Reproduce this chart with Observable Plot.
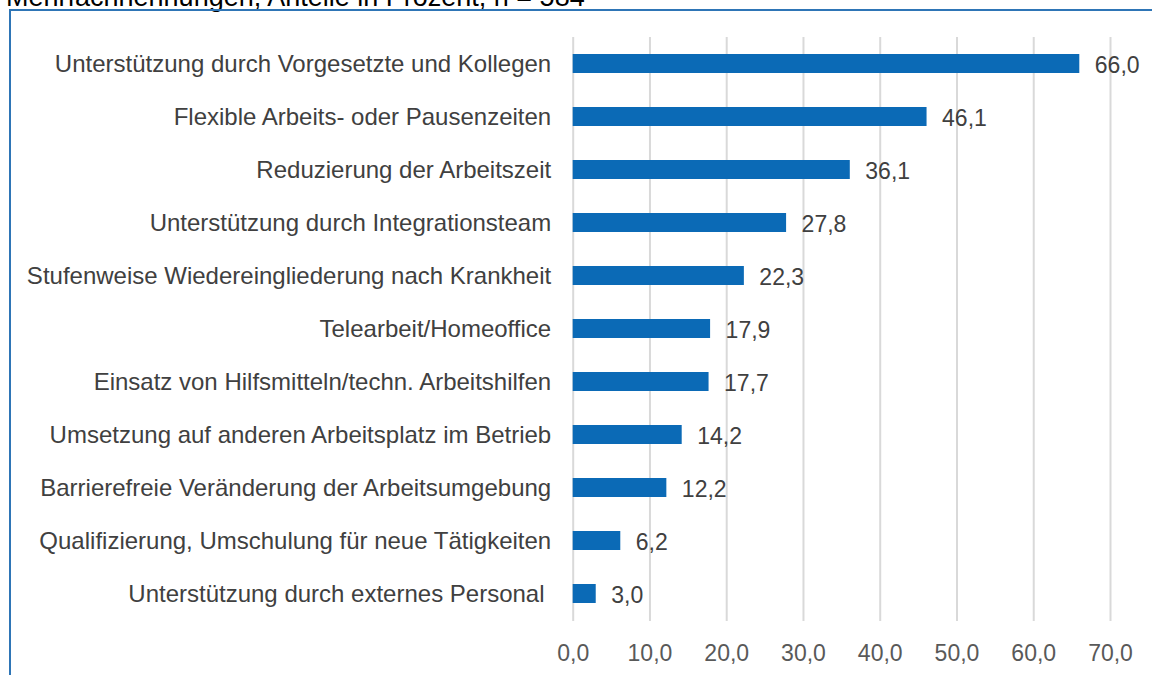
<!DOCTYPE html>
<html>
<head>
<meta charset="utf-8">
<script src="https://cdn.jsdelivr.net/npm/d3@7"></script>
<script src="https://cdn.jsdelivr.net/npm/@observablehq/plot@0.6"></script>
<style>
  html, body { margin: 0; padding: 0; background: #ffffff; }
  #wrap { position: relative; width: 1152px; height: 675px; overflow: hidden; background: #ffffff; }
  #title { position: absolute; left: 6px; top: -16px; font-family: "Liberation Sans", Arial, sans-serif; font-size: 27px; line-height: 27px; color: #000000; white-space: nowrap; }
  #frame { position: absolute; left: 9px; top: 9px; width: 1200px; height: 700px; border-left: 2px solid #2e75b6; border-top: 2px solid #2e75b6; }
  #chart { position: absolute; left: 0; top: 0; }
</style>
</head>
<body>
<div id="wrap">
  <div id="title">Mehrfachnennungen, Anteile in Prozent, n = 584</div>
  <div id="frame"></div>
  <div id="chart"></div>
</div>
<script>
const categories = [
  "Unterstützung durch Vorgesetzte und Kollegen",
  "Flexible Arbeits- oder Pausenzeiten",
  "Reduzierung der Arbeitszeit",
  "Unterstützung durch Integrationsteam",
  "Stufenweise Wiedereingliederung nach Krankheit",
  "Telearbeit/Homeoffice",
  "Einsatz von Hilfsmitteln/techn. Arbeitshilfen",
  "Umsetzung auf anderen Arbeitsplatz im Betrieb",
  "Barrierefreie Veränderung der Arbeitsumgebung",
  "Qualifizierung, Umschulung für neue Tätigkeiten",
  "Unterstützung durch externes Personal\u00a0"
];
const values = [66.0, 46.1, 36.1, 27.8, 22.3, 17.9, 17.7, 14.2, 12.2, 6.2, 3.0];
const xTicks = [0, 10, 20, 30, 40, 50, 60, 70];

const data = categories.map((c, i) => ({category: c, value: values[i]}));
const fmt = v => v.toFixed(1).replace(".", ",");

const chart = Plot.plot({
  width: 1152,
  height: 675,
  marginLeft: 572.7,
  marginRight: 42,
  marginTop: 37,
  marginBottom: 54,
  style: {fontFamily: "'Liberation Sans', Arial, sans-serif", background: "transparent"},
  x: {domain: [0, 70], ticks: xTicks, tickFormat: fmt, label: null},
  y: {domain: categories, paddingInner: 0.64, paddingOuter: 0.32, label: null},
  marks: [
    Plot.ruleX(xTicks, {stroke: "#d9d9d9", strokeWidth: 2}),
    Plot.barX(data, {x: "value", y: "category", fill: "#0b6ab6"}),
    Plot.text(data, {x: "value", y: "category", text: d => fmt(d.value), dx: 15, dy: 2, textAnchor: "start", fontSize: 23, fill: "#404040"}),
    Plot.axisX({ticks: xTicks, tickFormat: fmt, tickSize: 0, tickPadding: 23, fontSize: 23, fill: "#595959", label: null}),
    Plot.axisY({tickSize: 0, tickPadding: 22, fontSize: 24, fill: "#404040", label: null})
  ]
});
document.getElementById("chart").appendChild(chart);
</script>
</body>
</html>
